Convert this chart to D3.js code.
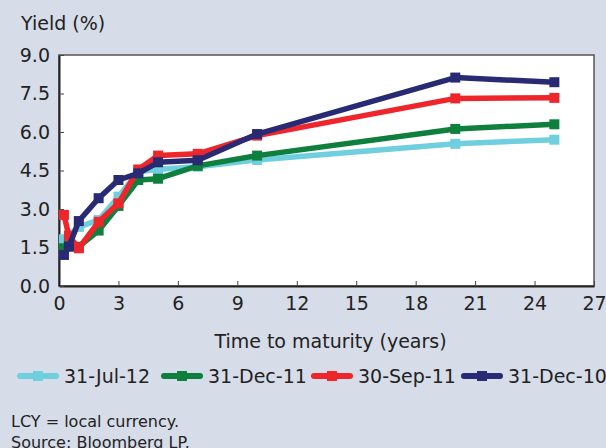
<!DOCTYPE html>
<html>
<head>
<meta charset="utf-8">
<script src="https://cdn.jsdelivr.net/npm/d3@7"></script>
<style>
  html, body { margin: 0; padding: 0; background: #d6dce8; }
  svg { display: block; font-family: "DejaVu Sans", Verdana, sans-serif; }
</style>
</head>
<body>
<svg id="chart" width="606" height="448"></svg>
<script>
// Maturities (years) shared by all curves
var maturities = [0.25, 0.5, 1, 2, 3, 4, 5, 7, 10, 20, 25];

// Yields (%)
var jul12 = [1.82, 1.99, 2.3, 2.57, 3.48, 4.45, 4.55, 4.65, 4.91, 5.54, 5.7];
var dec11 = [1.47, 1.6, 1.53, 2.16, 3.12, 4.13, 4.18, 4.68, 5.08, 6.12, 6.3];
var sep11 = [2.77, 1.95, 1.47, 2.5, 3.22, 4.54, 5.08, 5.15, 5.86, 7.31, 7.33];
var dec10 = [1.21, 1.53, 2.53, 3.42, 4.13, 4.39, 4.82, 4.9, 5.92, 8.12, 7.94];

var seriesNames = ['31-Jul-12', '31-Dec-11', '30-Sep-11', '31-Dec-10'];
var seriesColors = ['#6fcfdf', '#0f7f3e', '#ee262c', '#282a73'];
var seriesValues = [jul12, dec11, sep11, dec10];

var xTicks = [0, 3, 6, 9, 12, 15, 18, 21, 24, 27];
var yTicks = [0, 1.5, 3, 4.5, 6, 7.5, 9];

var svg = d3.select('#chart');
// plot box (note: "top" is a reserved window property, so prefixed names)
var plotL = 59, plotR = 594, plotT = 55, plotB = 286;

var x = d3.scaleLinear().domain([0, 27]).range([plotL, plotR]);
var y = d3.scaleLinear().domain([0, 9]).range([plotB, plotT]);

// plot area
svg.append('rect')
  .attr('x', plotL).attr('y', plotT)
  .attr('width', plotR - plotL).attr('height', plotB - plotT)
  .attr('fill', '#fff')
  .attr('stroke', '#555').attr('stroke-width', 1.5);

// axes with inward ticks
var xAxis = svg.append('g')
  .attr('transform', 'translate(0,' + plotB + ')')
  .call(d3.axisBottom(x).tickValues(xTicks).tickSizeInner(-5).tickSizeOuter(0)
    .tickPadding(11).tickFormat(d3.format('d')));
var yAxis = svg.append('g')
  .attr('transform', 'translate(' + plotL + ',0)')
  .call(d3.axisLeft(y).tickValues(yTicks).tickSizeInner(-5).tickSizeOuter(0)
    .tickPadding(9).tickFormat(d3.format('.1f')));

[xAxis, yAxis].forEach(function (ax) {
  ax.select('.domain').attr('stroke', '#222').attr('stroke-width', 2);
  ax.selectAll('.tick line').attr('stroke', '#444').attr('stroke-width', 1);
  ax.selectAll('.tick text')
    .attr('fill', '#222')
    .style('font-size', '19px')
    .style('font-family', '"DejaVu Sans", Verdana, sans-serif');
});

// titles
svg.append('text')
  .attr('x', 21).attr('y', 30)
  .attr('fill', '#222').style('font-size', '19px')
  .text('Yield (%)');
svg.append('text')
  .attr('x', (plotL + plotR) / 2 + 4).attr('y', 348)
  .attr('text-anchor', 'middle')
  .attr('fill', '#222').style('font-size', '19px')
  .text('Time to maturity (years)');

// curves
var line = d3.line()
  .x(function (d, i) { return x(maturities[i]); })
  .y(function (d) { return y(d); });

seriesValues.forEach(function (vals, s) {
  var g = svg.append('g');
  g.append('path')
    .attr('d', line(vals))
    .attr('fill', 'none')
    .attr('stroke', seriesColors[s])
    .attr('stroke-width', 5.5)
    .attr('stroke-linejoin', 'round');
  g.selectAll('rect')
    .data(vals)
    .join('rect')
    .attr('x', function (d, i) { return x(maturities[i]) - 5; })
    .attr('y', function (d) { return y(d) - 5; })
    .attr('width', 10).attr('height', 10)
    .attr('fill', seriesColors[s]);
});

// legend
var legendX = [18, 162, 312, 462];
var leg = svg.append('g').attr('transform', 'translate(0,376)');
seriesNames.forEach(function (name, s) {
  var lg = leg.append('g').attr('transform', 'translate(' + legendX[s] + ',0)');
  lg.append('line')
    .attr('x1', 2).attr('x2', 38).attr('y1', 0).attr('y2', 0)
    .attr('stroke', seriesColors[s]).attr('stroke-width', 6)
    .attr('stroke-linecap', 'round');
  lg.append('rect')
    .attr('x', 15).attr('y', -5).attr('width', 10).attr('height', 10)
    .attr('fill', seriesColors[s]);
  lg.append('text')
    .attr('x', 46).attr('y', 7)
    .attr('fill', '#222').style('font-size', '19px')
    .text(name);
});

// notes
svg.append('text')
  .attr('x', 11).attr('y', 427)
  .attr('fill', '#222').style('font-size', '16px')
  .text('LCY = local currency.');
svg.append('text')
  .attr('x', 11).attr('y', 448)
  .attr('fill', '#222').style('font-size', '16px')
  .text('Source: Bloomberg LP.');
</script>
</body>
</html>
